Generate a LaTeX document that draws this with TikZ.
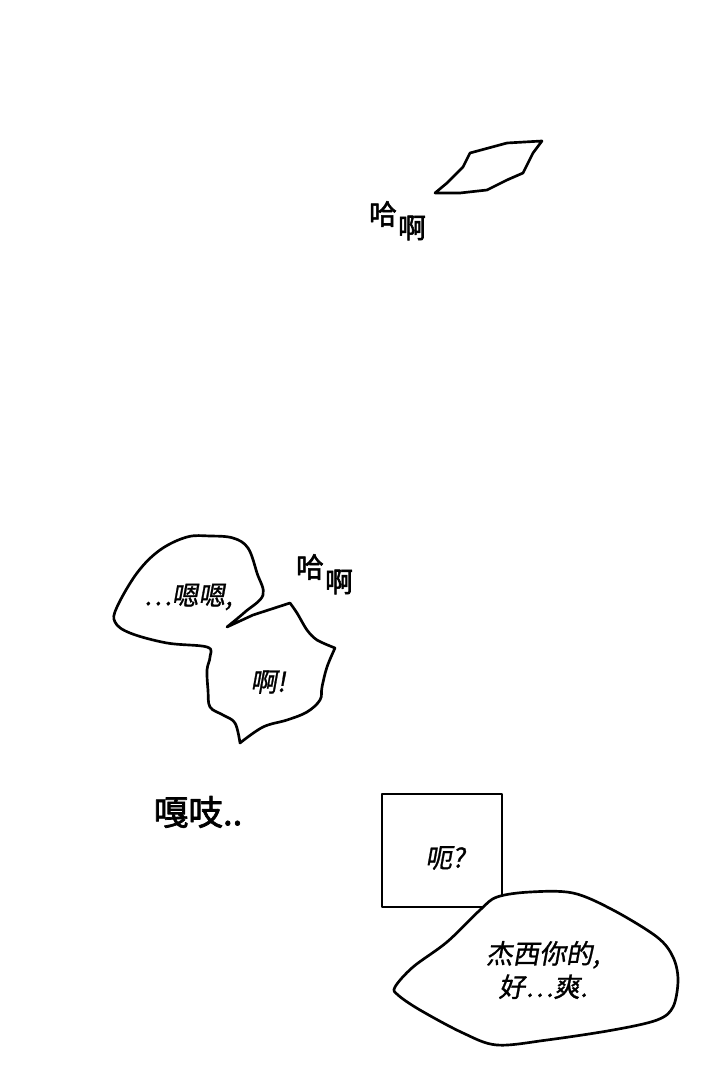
\documentclass[tikz,border=0pt]{standalone}
\usepackage{fontspec}
\newfontfamily\cjk[FakeSlant=0.18,FakeBold=1]{Noto Sans CJK SC}
\newfontfamily\cjkfx[FakeBold=2]{Noto Sans CJK SC}

\begin{document}
\begin{tikzpicture}[x=0.75pt, y=-0.75pt, line width=2pt, line join=round,
  talk/.style={font=\cjk\fontsize{20}{25}\selectfont, align=center, inner sep=0pt},
  sfx/.style={font=\cjkfx\fontsize{21}{24}\selectfont, inner sep=0pt}]
\useasboundingbox (0,0) rectangle (720,1080);
% torn scrap at the top
\draw (435,193) -- (447,183) -- (463,167) -- (470,153) -- (507,143) -- (542,141) -- (533,153) -- (523,173) -- (507,180) -- (487,190) -- (460,193) -- cycle;
\node [sfx] (ha1) at (383,214) {哈};
\node [sfx] (aa1) at (412,228) {啊};
% double bubble
\draw plot [smooth, tension=0.6] coordinates {(227,627) (245,612) (263,595) (257,573) (248,548) (233,538) (210,536) (187,537) (160,550) (137,573) (117,607) (115,622) (130,633) (167,643) (207,647) (210,657) (207,670) (208,690) (210,707) (223,715) (235,723) (240,743)}
  -- plot [smooth, tension=0.6] coordinates {(240,743) (263,727) (287,720) (307,712) (320,700) (322,687) (327,667) (335,648)}
  -- plot [smooth] coordinates {(335,648) (317,640) (307,630) (297,613) (290,603)}
  -- (253,615) -- cycle;
\node [talk] (mm) at (188,597) {…嗯嗯,};
\node [talk] (ah) at (268,682) {啊!};
\node [sfx] (ha2) at (310,567) {哈};
\node [sfx] (aa2) at (339,582) {啊};
% door and box
\node [sfx, font=\cjkfx\fontsize{26}{30}\selectfont] (creak) at (198,812) {嘎吱..};
\draw (382,794) rectangle (502,907);
\node [talk] (eh) at (445,858) {呃?};
% last bubble
\draw [fill=white] plot [smooth cycle, tension=0.55] coordinates {(395,987) (413,967) (447,942) (480,910) (497,897) (530,892) (573,893) (613,910) (657,937) (673,957) (678,980) (673,1007) (657,1020) (613,1030) (547,1040) (497,1045) (463,1033) (420,1010) (398,995)};
\node [talk] (jessie) at (543,970) {杰西你的,\\好…爽.};
\end{tikzpicture}
\end{document}
